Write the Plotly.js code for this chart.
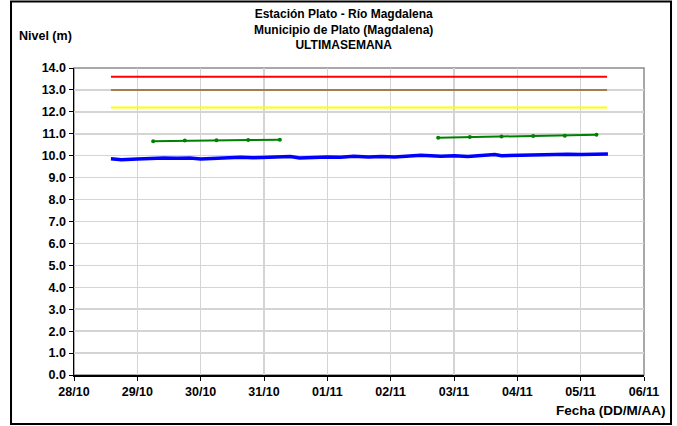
<!DOCTYPE html>
<html>
<head>
<meta charset="utf-8">
<script src="https://cdn.plot.ly/plotly-3.0.1.min.js"></script>
<style>
  body { margin: 0; background: #fff; }
  #chart { width: 677px; height: 426px; }
</style>
</head>
<body>
<div id="chart"></div>
<script>
// Nivel del río (serie horaria)
var nivelFechas = [
  "2012-10-28 14:00", "2012-10-28 18:00", "2012-10-29 00:00", "2012-10-29 05:00",
  "2012-10-29 10:00", "2012-10-29 15:00", "2012-10-29 20:00", "2012-10-30 00:00",
  "2012-10-30 05:00", "2012-10-30 10:00", "2012-10-30 15:00", "2012-10-30 20:00",
  "2012-10-31 01:00", "2012-10-31 06:00", "2012-10-31 10:00", "2012-10-31 13:30",
  "2012-10-31 18:30", "2012-11-01 00:00", "2012-11-01 05:00", "2012-11-01 10:00",
  "2012-11-01 15:30", "2012-11-01 20:30", "2012-11-02 01:30", "2012-11-02 06:30",
  "2012-11-02 11:30", "2012-11-02 19:00", "2012-11-03 00:15", "2012-11-03 05:15",
  "2012-11-03 10:30", "2012-11-03 15:30", "2012-11-03 18:00", "2012-11-03 23:00",
  "2012-11-04 04:00", "2012-11-04 09:00", "2012-11-04 14:00", "2012-11-04 19:00",
  "2012-11-05 00:15", "2012-11-05 05:15", "2012-11-05 10:20"
];
var nivelValores = [
  9.86, 9.82, 9.85, 9.88, 9.90, 9.88, 9.90, 9.85,
  9.88, 9.91, 9.93, 9.91, 9.93, 9.93, 9.96, 9.90,
  9.93, 9.94, 9.93, 9.97, 9.94, 9.96, 9.94, 9.97,
  10.02, 9.97, 10.00, 9.96, 10.02, 10.05, 10.00, 10.02,
  10.05, 10.07, 10.05, 10.07, 10.05, 10.08, 10.08
];

// Pronóstico (dos tramos)
var pron1Fechas = ["2012-10-29 06:00", "2012-10-29 18:00", "2012-10-30 06:00", "2012-10-30 18:00", "2012-10-31 06:00"];
var pron1Valores = [10.66, 10.69, 10.70, 10.72, 10.73];
var pron2Fechas = ["2012-11-02 18:00", "2012-11-03 06:00", "2012-11-03 18:00", "2012-11-04 06:00", "2012-11-04 18:00", "2012-11-05 06:00"];
var pron2Valores = [10.82, 10.85, 10.88, 10.90, 10.91, 10.96];

// Umbrales
var umbralFechas = ["2012-10-28 14:00", "2012-11-05 10:00"];
var umbralRojo = 13.6;
var umbralNaranja = 13.0;
var umbralAmarillo = 12.2;

// Título (una línea por renglón)
var titulo = ["Estación Plato - Río Magdalena", "Municipio de Plato (Magdalena)", "ULTIMASEMANA"];

var font = "Liberation Sans, Arial, sans-serif";

function umbral(valor, color) {
  return {
    x: umbralFechas,
    y: [valor, valor],
    type: "scatter",
    mode: "lines",
    line: { color: color, width: 2 },
    hoverinfo: "skip"
  };
}

var data = [
  umbral(umbralRojo, "#ff0000"),
  umbral(umbralNaranja, "#a87a50"),
  umbral(umbralAmarillo, "#ffff00"),
  {
    x: pron1Fechas, y: pron1Valores, type: "scatter", mode: "lines+markers",
    line: { color: "#008000", width: 2 }, marker: { color: "#008000", size: 4 }
  },
  {
    x: pron2Fechas, y: pron2Valores, type: "scatter", mode: "lines+markers",
    line: { color: "#008000", width: 2 }, marker: { color: "#008000", size: 4 }
  },
  {
    x: nivelFechas, y: nivelValores, type: "scatter", mode: "lines",
    line: { color: "#0000ff", width: 3.5 }
  }
];

var anotaciones = [
  {
    text: "<b>" + titulo.join("<br>") + "</b>", xref: "paper", yref: "paper",
    x: 0.4728, y: 1.127, xanchor: "center", yanchor: "middle", align: "center",
    showarrow: false, font: { family: font, size: 12, color: "#000" }
  },
  {
    text: "<b>Nivel (m)</b>", xref: "paper", yref: "paper",
    x: 0, y: 1.104, xanchor: "right", yanchor: "middle",
    showarrow: false, font: { family: font, size: 12.5, color: "#000" }
  },
  {
    text: "<b>Fecha (DD/M/AA)</b>", xref: "paper", yref: "paper",
    x: 1.042, y: -0.117, xanchor: "right", yanchor: "middle",
    showarrow: false, font: { family: font, size: 13.5, color: "#000" }
  }
];

var layout = {
  width: 677,
  height: 426,
  margin: { l: 74, r: 33, t: 68, b: 51 },
  paper_bgcolor: "#ffffff",
  plot_bgcolor: "#ffffff",
  showlegend: false,
  font: { family: font, size: 12, color: "#000" },
  xaxis: {
    type: "date",
    range: ["2012-10-28", "2012-11-06"],
    dtick: 86400000,
    tick0: "2012-10-28",
    tickformat: "<b>%d/%m</b>",
    tickfont: { family: font, size: 12.5, color: "#000" },
    showgrid: true,
    gridcolor: "#d4d4d4",
    gridwidth: 1.5,
    showline: true,
    linecolor: "#000",
    linewidth: 1.5,
    ticks: "outside",
    ticklen: 4,
    tickcolor: "#000",
    zeroline: false,
    fixedrange: true
  },
  yaxis: {
    range: [0, 14],
    dtick: 1,
    tickformat: ".1f",
    tickprefix: "<b>",
    ticksuffix: "</b>",
    tickfont: { family: font, size: 12.5, color: "#000" },
    showgrid: true,
    gridcolor: "#d4d4d4",
    gridwidth: 1.5,
    showline: true,
    linecolor: "#000",
    linewidth: 1.5,
    ticks: "outside",
    ticklen: 4,
    tickcolor: "#000",
    zeroline: false,
    fixedrange: true
  },
  shapes: [
    // borde gris del área de trazado
    {
      type: "rect", xref: "paper", yref: "paper", x0: 0, x1: 1, y0: 0, y1: 1,
      line: { color: "#8c8c8c", width: 1.5 }, layer: "below"
    },
    // marco exterior
    {
      type: "rect", xref: "paper", yref: "paper",
      x0: -0.1105, x1: 1.0474, y0: -0.1596, y1: 1.2166,
      line: { color: "#000", width: 2 }
    }
  ],
  annotations: anotaciones
};

Plotly.newPlot("chart", data, layout, { displayModeBar: false, staticPlot: true });
</script>
</body>
</html>
